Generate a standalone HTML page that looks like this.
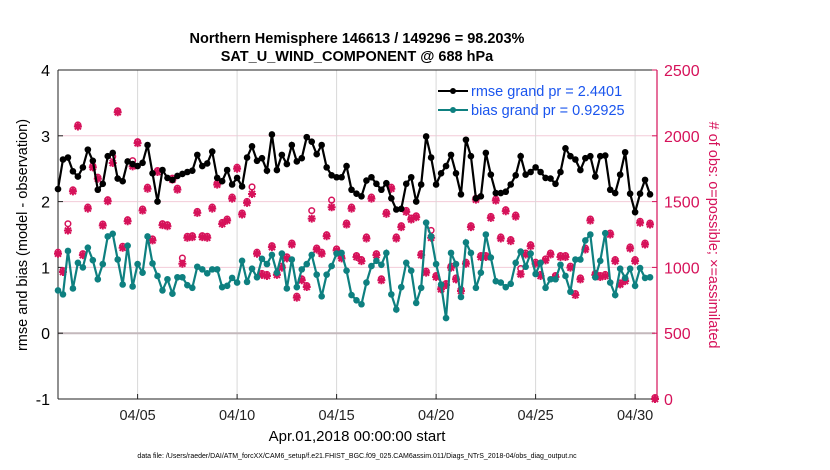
<!DOCTYPE html>
<html><head><meta charset="utf-8"><style>
body{margin:0;background:#fff;}
svg{display:block;font-family:"Liberation Sans",Arial,sans-serif;}
</style></head><body>
<svg id="chart" width="830" height="470" viewBox="0 0 830 470" xmlns="http://www.w3.org/2000/svg">
<rect width="830" height="470" fill="#fff"/>
<text x="357" y="43" text-anchor="middle" font-size="14.5" font-weight="bold">Northern Hemisphere 146613 / 149296 = 98.203%</text>
<text x="357" y="61" text-anchor="middle" font-size="14.5" font-weight="bold">SAT_U_WIND_COMPONENT @ 688 hPa</text>
<g id="grid"></g>
<g id="axes"></g>
<g id="marks"></g>
<g id="legend">
  <line x1="438" y1="91" x2="468" y2="91" stroke="#000" stroke-width="2"/>
  <circle cx="453" cy="91" r="3" fill="#000"/>
  <text x="471" y="96" font-size="14.5" fill="#1a55ee">rmse grand pr = 2.4401</text>
  <line x1="438" y1="110" x2="468" y2="110" stroke="#0e8080" stroke-width="2"/>
  <circle cx="453" cy="110" r="3" fill="#0e8080"/>
  <text x="471" y="115" font-size="14.5" fill="#1a55ee">bias grand pr = 0.92925</text>
</g>
<text transform="translate(27,235) rotate(-90)" text-anchor="middle" font-size="14.5">rmse and bias (model - observation)</text>
<text transform="translate(709,235) rotate(90)" text-anchor="middle" font-size="14.5" fill="#d6125a"># of obs: o=possible; ×=assimilated</text>
<text x="357" y="441" text-anchor="middle" font-size="15">Apr.01,2018 00:00:00 start</text>
<text x="357" y="458" text-anchor="middle" font-size="7">data file: /Users/raeder/DAI/ATM_forcXX/CAM6_setup/f.e21.FHIST_BGC.f09_025.CAM6assim.011/Diags_NTrS_2018-04/obs_diag_output.nc</text>
</svg>
<script>
const rmse=[2.19,2.64,2.67,2.46,2.38,2.52,2.79,2.62,2.18,2.27,2.69,2.74,2.35,2.31,2.61,2.57,2.54,2.59,2.86,2.43,2.0,2.48,2.36,2.33,2.39,2.42,2.45,2.47,2.71,2.54,2.58,
2.76,2.36,2.31,2.48,2.26,2.36,2.23,2.67,2.84,2.62,2.66,2.47,3.02,2.48,2.71,2.57,2.86,2.61,2.66,2.98,2.91,2.72,2.86,2.52,2.40,2.37,2.37,2.54,2.18,2.12,
2.08,2.32,2.37,2.27,2.18,2.28,2.05,1.88,1.89,2.27,2.37,2.0,2.26,2.99,2.67,2.26,2.43,2.54,2.71,2.43,2.11,2.94,2.69,2.05,2.08,2.74,2.41,2.13,2.13,2.15,
2.26,2.40,2.69,2.41,2.45,2.52,2.45,2.36,2.35,2.27,2.45,2.81,2.69,2.64,2.48,2.66,2.69,2.38,2.69,2.70,2.18,2.13,2.41,2.75,2.12,1.84,2.12,2.33,2.11];
const bias=[0.65,0.59,1.25,0.68,1.07,1.0,1.30,1.11,0.82,1.05,1.47,1.51,1.12,0.74,1.33,0.71,1.05,0.92,1.47,1.06,0.87,0.65,0.82,0.60,0.85,0.85,0.73,0.69,1.01,0.97,0.91,
0.97,0.97,0.70,0.72,0.84,0.77,1.10,0.78,0.98,0.85,1.13,1.05,1.19,0.92,1.21,0.68,1.12,0.70,0.97,1.05,1.19,0.89,0.56,0.89,1.02,1.21,1.22,0.95,0.58,0.50,
0.44,0.77,1.02,1.10,1.04,1.22,0.59,0.36,0.70,1.07,0.95,0.46,0.69,1.68,1.47,1.05,0.74,0.23,1.22,1.05,0.55,1.38,1.22,0.69,0.92,1.50,1.15,0.79,0.77,0.70,
0.75,1.07,1.24,1.01,1.21,0.90,1.07,0.69,0.82,0.82,1.04,0.87,0.63,1.12,1.12,1.41,1.50,0.85,1.10,1.52,0.77,0.58,0.98,0.84,0.98,0.72,0.99,0.84,0.85];
const nassim=[1104,965,1280,1578,2071,1093,1447,1760,1674,1318,1503,1793,2179,1149,1351,1768,1944,1432,1598,1205,1725,1321,1313,1667,1591,1028,1225,1230,1414,1230,1225,
1447,1629,1330,1356,1523,1750,1402,1490,1558,1104,943,935,1154,943,998,1069,1174,770,902,851,1371,1136,1104,1237,1457,1129,1069,1326,1447,1079,
1048,1220,1523,1093,902,1407,1598,1220,1306,1422,1364,1381,1093,960,1225,927,834,866,998,909,821,1028,1306,1515,1079,1079,1376,1508,1220,1427,
1200,1386,948,1098,1161,1028,935,1053,1098,927,1079,1079,998,790,909,1136,1356,943,927,935,1250,1048,871,896,1144,1048,1339,1174,1326,0];
const nposs=[1104,965,1320,1578,2071,1093,1447,1760,1674,1318,1503,1830,2179,1149,1351,1800,1944,1432,1598,1205,1725,1321,1313,1667,1591,1060,1225,1230,1414,1230,1225,
1447,1629,1330,1356,1523,1750,1402,1490,1600,1104,943,935,1154,943,998,1069,1174,770,902,851,1420,1136,1104,1237,1500,1129,1069,1326,1447,1079,
1048,1220,1523,1093,902,1407,1598,1220,1306,1422,1364,1381,1093,960,1270,927,834,866,998,909,821,1028,1306,1515,1079,1079,1376,1508,1220,1427,
1200,1386,980,1098,1161,1028,935,1053,1098,927,1079,1079,998,790,909,1136,1356,943,927,935,1250,1048,871,896,1144,1048,1339,1174,1326,0];
const xTickLabels=["04/05","04/10","04/15","04/20","04/25","04/30"];
const xTickDays=[4,9,14,19,24,29];
const yTicksL=[-1,0,1,2,3,4];
const yTicksR=[0,500,1000,1500,2000,2500];

const NS="http://www.w3.org/2000/svg";
const X0=58,X1=655,Y0=70,Y1=399;
const dayPx=(X1-X0)/30;
function xDay(d){return X0+d*dayPx;}
function xIdx(i){return xDay(i/4);}
function yL(v){return Y1-(v+1)*(Y1-Y0)/5;}
function yR(v){return Y1-v*(Y1-Y0)/2500;}
function mk(tag,attrs,parent){const e=document.createElementNS(NS,tag);for(const k in attrs)e.setAttribute(k,attrs[k]);parent.appendChild(e);return e;}
const grid=document.getElementById('grid'),axes=document.getElementById('axes'),marks=document.getElementById('marks');

yTicksR.forEach(v=>{if(v>0&&v<2500){const l=mk('line',{x1:X0,x2:X1,y1:yR(v),y2:yR(v),stroke:'#f3cbd8','stroke-width':1},grid);

}});
xTickDays.forEach(d=>{const l=mk('line',{x1:xDay(d),x2:xDay(d),y1:Y0,y2:Y1,stroke:'#d8d8d8','stroke-width':1},grid);

});
const z=mk('line',{x1:X0,x2:X1,y1:yL(0),y2:yL(0),stroke:'#c4b8bc','stroke-width':2},grid);



mk('line',{x1:X0,x2:X1,y1:Y0,y2:Y0,stroke:'#222','stroke-width':1},axes);
mk('line',{x1:X0,x2:X1,y1:Y1,y2:Y1,stroke:'#222','stroke-width':1},axes);
mk('line',{x1:X0,x2:X0,y1:Y0,y2:Y1,stroke:'#222','stroke-width':1},axes);
mk('line',{x1:X1+2,x2:X1+2,y1:Y0,y2:Y1,stroke:'#d6125a','stroke-width':1.2},axes);
yTicksL.forEach(v=>{mk('line',{x1:X0,x2:X0+5,y1:yL(v),y2:yL(v),stroke:'#222'},axes);
const t=mk('text',{x:X0-8,y:yL(v)+6,'text-anchor':'end','font-size':16},axes);t.textContent=v;

});
yTicksR.forEach(v=>{mk('line',{x1:X1+2,x2:X1-3,y1:yR(v),y2:yR(v),stroke:'#d6125a'},axes);
const t=mk('text',{x:X1+9,y:yR(v)+6,'font-size':16,fill:'#d6125a'},axes);t.textContent=v;

});
xTickDays.forEach((d,k)=>{mk('line',{x1:xDay(d),x2:xDay(d),y1:Y1,y2:Y1-5,stroke:'#222'},axes);
const t=mk('text',{x:xDay(d),y:420,'text-anchor':'middle','font-size':14.5,fill:'#222'},axes);t.textContent=xTickLabels[k];

});

const pink='#d6125a';
nassim.forEach((v,i)=>{const x=xIdx(i),y=yR(v),s=4;
const p=mk('path',{d:`M${x-s} ${y}H${x+s}M${x} ${y-s}V${y+s}M${x-3} ${y-3}L${x+3} ${y+3}M${x-3} ${y+3}L${x+3} ${y-3}`,stroke:pink,'stroke-width':2},marks);

});
nposs.forEach((v,i)=>{const c=mk('circle',{cx:xIdx(i),cy:yR(v)-1.5,r:2.8,fill:'none',stroke:pink,'stroke-width':1.5},marks);

});

function series(arr,color,name){
  const pts=arr.map((v,i)=>xIdx(i)+','+yL(v)).join(' ');
  const pl=mk('polyline',{points:pts,fill:'none',stroke:color,'stroke-width':2.2},marks);
  
  
  arr.forEach((v,i)=>{const c=mk('circle',{cx:xIdx(i),cy:yL(v),r:3.3,fill:color},marks);
  
  });
}
series(bias,'#0e8080','bias');
series(rmse,'#000','rmse');
</script>
</body></html>
